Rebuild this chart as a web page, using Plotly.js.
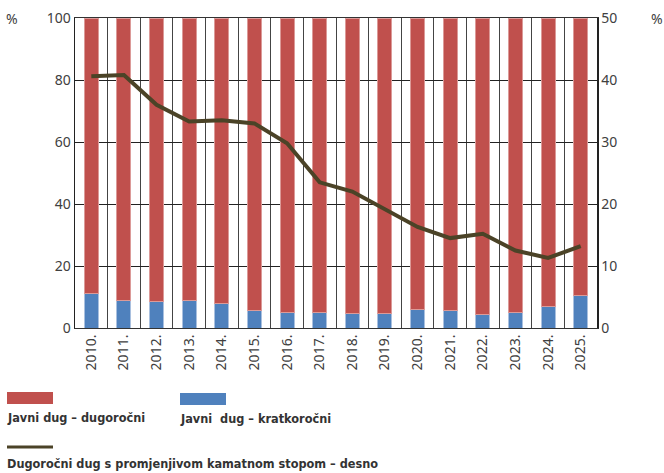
<!DOCTYPE html>
<html>
<head>
<meta charset="utf-8">
<script src="https://cdn.plot.ly/plotly-3.0.1.min.js"></script>
<style>
  html, body { margin: 0; padding: 0; background: #fff; }
  #chart { width: 664px; height: 473px; }
</style>
</head>
<body>
<div id="chart"></div>
<script>
const years = ["2010.", "2011.", "2012.", "2013.", "2014.", "2015.", "2016.", "2017.",
  "2018.", "2019.", "2020.", "2021.", "2022.", "2023.", "2024.", "2025."];

// share of short-term public debt, %
const shortTerm = [11.2, 8.9, 8.6, 8.9, 8.0, 5.7, 5.1, 5.0, 4.6, 4.6, 6.0, 5.6, 4.2, 4.9, 6.8, 10.5];
// share of long-term public debt, %
const longTerm = [88.8, 91.1, 91.4, 91.1, 92.0, 94.3, 94.9, 95.0, 95.4, 95.4, 94.0, 94.4, 95.8, 95.1, 93.2, 89.5];
// long-term debt with variable rate, % (right axis)
const variableRate = [40.6, 40.8, 36.0, 33.3, 33.5, 33.0, 29.8, 23.5, 22.0, 19.2, 16.3, 14.5, 15.2, 12.5, 11.3, 13.2];

const leftTicks = [0, 20, 40, 60, 80, 100];
const rightTicks = [0, 10, 20, 30, 40, 50];

const RED = "#c0504d";
const BLUE = "#4f81bd";
const OLIVE = "#4b4327";
const TICK_FONT = { family: "Noto Sans, sans-serif", size: 14, color: "#404040" };
const LEGEND_FONT = { family: "DejaVu Sans Condensed, sans-serif", size: 12.6, color: "#333333", weight: "bold" };

const traces = [
  {
    x: years,
    y: shortTerm,
    type: "bar",
    name: "Javni  dug – kratkoročni",
    marker: { color: BLUE, line: { color: "#a9c0df", width: 1 } },
    hoverinfo: "y"
  },
  {
    x: years,
    y: longTerm,
    type: "bar",
    name: "Javni dug – dugoročni",
    marker: { color: RED, line: { color: "#dc9a98", width: 1 } },
    hoverinfo: "y"
  },
  {
    x: years,
    y: variableRate,
    type: "scatter",
    mode: "lines",
    yaxis: "y2",
    name: "Dugoročni dug s promjenjivom kamatnom stopom – desno",
    line: { color: OLIVE, width: 4 },
    hoverinfo: "y"
  }
];

// paper coords: plot area spans x 75..597 px, y 18..328 px
const px = (x) => (x - 75) / 522;
const py = (y) => (328 - y) / 310;

const legendItems = [
  { kind: "box", color: RED, x: 7, y: 392, text: "Javni dug – dugoročni" },
  { kind: "box", color: BLUE, x: 180, y: 393, text: "Javni  dug – kratkoročni" },
  { kind: "line", color: OLIVE, x: 7, y: 447, text: "Dugoročni dug s promjenjivom kamatnom stopom – desno" }
];

const shapes = [];
const annotations = [
  { text: "%", xref: "paper", yref: "paper", x: px(12), y: py(18), xanchor: "center", yanchor: "middle", showarrow: false, font: TICK_FONT },
  { text: "%", xref: "paper", yref: "paper", x: px(657), y: py(18), xanchor: "center", yanchor: "middle", showarrow: false, font: TICK_FONT }
];

legendItems.forEach((item) => {
  if (item.kind === "box") {
    shapes.push({
      type: "rect", xref: "paper", yref: "paper",
      x0: px(item.x), x1: px(item.x + 46), y0: py(item.y), y1: py(item.y + 12),
      fillcolor: item.color, line: { width: 0 }
    });
  } else {
    shapes.push({
      type: "line", xref: "paper", yref: "paper",
      x0: px(item.x), x1: px(item.x + 46), y0: py(item.y), y1: py(item.y),
      line: { color: item.color, width: 3 }
    });
  }
  annotations.push({
    text: item.text, xref: "paper", yref: "paper",
    x: px(item.x - 2), y: py(item.y + (item.kind === "box" ? 25 : 16)),
    xanchor: "left", yanchor: "middle", showarrow: false, font: LEGEND_FONT
  });
});

Plotly.newPlot("chart", traces, {
  width: 664,
  height: 473,
  margin: { l: 75, r: 67, t: 18, b: 145 },
  paper_bgcolor: "#ffffff",
  plot_bgcolor: "#ffffff",
  barmode: "stack",
  bargap: 0.57,
  showlegend: false,
  xaxis: {
    type: "category",
    tickson: "boundaries",
    showgrid: true,
    gridcolor: "#444444",
    gridwidth: 1,
    showline: true,
    mirror: true,
    linecolor: "#333333",
    linewidth: 1,
    ticks: "",
    tickangle: -90,
    tickfont: TICK_FONT,
    fixedrange: true
  },
  yaxis: {
    range: [0, 100],
    tickvals: leftTicks,
    showgrid: true,
    gridcolor: "#222222",
    gridwidth: 1,
    zeroline: false,
    showline: true,
    linecolor: "#222222",
    linewidth: 1.5,
    ticks: "",
    ticklen: 0,
    tickfont: TICK_FONT,
    fixedrange: true
  },
  yaxis2: {
    range: [0, 50],
    tickvals: rightTicks,
    overlaying: "y",
    side: "right",
    showgrid: false,
    zeroline: false,
    showline: true,
    linecolor: "#222222",
    linewidth: 1.5,
    ticks: "",
    tickfont: TICK_FONT,
    fixedrange: true
  },
  shapes,
  annotations
}, { displayModeBar: false, staticPlot: true });
</script>
</body>
</html>
